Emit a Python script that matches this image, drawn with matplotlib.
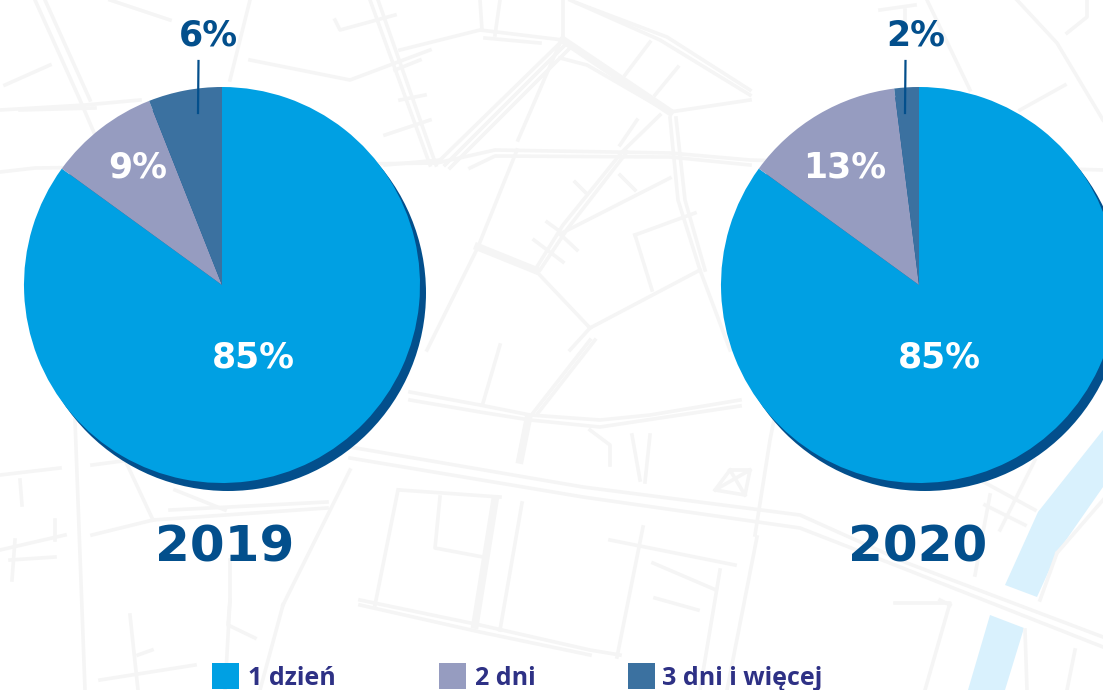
import matplotlib.pyplot as plt
from matplotlib.patches import Circle, Polygon, Rectangle

plt.rcParams['font.family'] = ['Open Sans', 'DejaVu Sans']

# data
years = ['2019', '2020']
categories = ['1 dzień', '2 dni', '3 dni i więcej']
values_2019 = [85, 9, 6]
values_2020 = [85, 13, 2]
colors = ['#00a0e3', '#969cc0', '#3b71a0']
dark = '#034f8c'
legend_color = '#2e3185'
road_color = '#f5f5f5'
river_color = '#d9f1fd'

# background map, in pixels of the picture
roads = [
    [(400, 50), (480, 30), (563, 40)], [(437, 163), (563, 40)], [(445, 165), (565, 45)], [(450, 168), (570, 48)],
    [(0, 172), (35, 168), (437, 163), (495, 150), (670, 153), (750, 160), (1103, 170)],
    [(470, 168), (495, 156), (670, 157), (750, 165)], [(518, 140), (560, 43)], [(517, 150), (478, 247), (427, 350)],
    [(535, 270), (563, 225), (622, 152), (660, 115)], [(540, 270), (568, 228), (627, 152)], [(560, 234), (670, 178)],
    [(670, 118), (678, 200), (700, 270), (730, 350)], [(676, 118), (685, 200), (705, 270)], [(670, 112), (750, 100)],
    [(577, 3), (667, 37), (750, 90)], [(570, 0), (660, 40), (750, 95)], [(563, 0), (563, 40)],
    [(535, 270), (590, 328), (700, 270)], [(590, 328), (570, 350)], [(635, 235), (652, 290)], [(635, 235), (695, 213)],
    [(480, 0), (482, 30)], [(500, 0), (495, 35)], [(485, 38), (540, 43)], [(560, 58), (587, 65), (670, 113)],
    [(625, 75), (650, 42)], [(655, 95), (678, 67)], [(620, 145), (637, 120)], [(575, 182), (585, 192)],
    [(547, 222), (558, 230)], [(534, 240), (563, 262)], [(620, 175), (635, 190)], [(560, 234), (577, 250)],
    [(35, 0), (80, 100), (110, 170)], [(45, 0), (90, 100)], [(5, 85), (50, 65)], [(20, 110), (95, 108)],
    [(0, 110), (85, 105), (140, 100)], [(110, 0), (170, 20)], [(250, 60), (350, 80), (430, 50)],
    [(370, 0), (430, 165)], [(378, 0), (436, 165)], [(250, 0), (230, 80)], [(335, 20), (340, 30), (395, 15)],
    [(385, 135), (430, 120)], [(385, 165), (440, 160)], [(395, 70), (420, 60)], [(400, 100), (425, 95)],
    [(410, 392), (480, 405), (530, 415), (600, 420), (650, 415), (740, 400)],
    [(410, 400), (480, 412), (530, 420), (600, 427), (740, 406)],
    [(350, 447), (583, 487), (800, 515), (907, 563), (1103, 637)],
    [(350, 458), (583, 497), (800, 528), (900, 567), (1103, 647)],
    [(360, 600), (480, 625), (590, 650), (620, 655)], [(360, 605), (480, 632), (590, 655)], [(398, 490), (375, 605)],
    [(500, 345), (483, 403)], [(533, 413), (590, 340)], [(538, 413), (595, 340)], [(522, 503), (500, 630)],
    [(440, 497), (435, 548), (483, 557)], [(400, 490), (500, 497)], [(643, 527), (617, 657)],
    [(610, 540), (735, 565)], [(720, 570), (700, 690)], [(755, 535), (770, 440), (790, 340)],
    [(757, 537), (727, 690)], [(653, 563), (716, 590)], [(655, 598), (698, 610)],
    [(632, 435), (640, 480)], [(650, 435), (645, 482)], [(590, 430), (610, 445), (610, 465)],
    [(715, 490), (730, 470), (750, 470), (745, 495), (715, 490), (750, 470)], [(730, 470), (745, 495)],
    [(75, 420), (85, 690)], [(92, 535), (153, 520), (327, 508)], [(170, 510), (327, 502)],
    [(153, 520), (125, 460)], [(92, 465), (130, 460)], [(175, 490), (225, 510)],
    [(230, 600), (228, 625), (255, 638)], [(230, 560), (230, 600), (225, 690)],
    [(283, 605), (350, 470)], [(283, 605), (260, 690)], [(130, 615), (138, 690)], [(138, 655), (152, 650)],
    [(100, 680), (195, 665)], [(0, 475), (60, 468)], [(20, 480), (22, 505)], [(0, 550), (65, 535)],
    [(55, 520), (55, 540)], [(15, 540), (12, 580)], [(10, 560), (55, 557)], [(1057, 553), (1040, 600)],
    [(1103, 500), (1057, 553)], [(1025, 630), (1027, 690)], [(1075, 650), (1067, 690)], [(940, 600), (950, 605)],
    [(895, 603), (950, 603), (925, 690)], [(1017, 0), (1057, 43), (1103, 120)],
    [(1087, 0), (1087, 17), (1067, 33)], [(927, 0), (970, 90)], [(880, 10), (915, 5)], [(905, 10), (905, 25)],
    [(1020, 110), (1065, 85)], [(980, 480), (1035, 510)], [(985, 505), (1025, 525)],
    [(990, 495), (975, 575)], [(1035, 460), (1000, 530)],
]
thick_roads = [[(478, 247), (535, 270)], [(495, 500), (475, 625)], [(520, 460), (528, 420)], [(563, 40), (670, 112)]]
river = [
    [(1005, 585), (1038, 512), (1103, 430), (1103, 487), (1057, 553), (1037, 597)],
    [(990, 615), (968, 690), (1005, 690), (1024, 628)],
]

fig = plt.figure(figsize=(11.03, 6.9), dpi=100)
ax = fig.add_axes([0, 0, 1, 1])

for r in river:
    ax.add_patch(Polygon(r, closed=True, color=river_color, lw=0, zorder=1))
for r in roads:
    ax.plot([p[0] for p in r], [p[1] for p in r], color=road_color, lw=2.6, zorder=2)
for r in thick_roads:
    ax.plot([p[0] for p in r], [p[1] for p in r], color=road_color, lw=5.5, zorder=2)

# the y axis runs downward, so startangle -90 is the top of the pie
for center_x, values, year, line_x, outer_x, lilac_x, big_x, year_x in [
    (222, values_2019, years[0], 198.5, 208, 138, 253.5, 225),
    (919, values_2020, years[1], 905.5, 916, 845, 939.5, 918),
]:
    ax.add_patch(Circle((center_x + 6, 293), 198, color=dark, lw=0, zorder=3))
    ax.pie(values, colors=colors, startangle=-90, counterclock=True, radius=198,
           center=(center_x, 285), wedgeprops={'linewidth': 0, 'zorder': 4})
    ax.text(big_x, 357, f'{values[0]}%', color='white', family='DejaVu Sans',
            fontsize=25, fontweight='bold', ha='center', va='center', zorder=6)
    ax.text(lilac_x, 168, f'{values[1]}%', color='white', family='DejaVu Sans',
            fontsize=25, fontweight='bold', ha='center', va='center', zorder=6)
    ax.text(outer_x, 36, f'{values[2]}%', color=dark, family='DejaVu Sans',
            fontsize=25, fontweight='bold', ha='center', va='center', zorder=6)
    ax.plot([line_x, line_x - 0.5], [61, 113], color=dark, lw=1.6, zorder=5)
    ax.text(year_x, 547, year, color=dark, family='DejaVu Sans',
            fontsize=36, fontweight='bold', ha='center', va='center', zorder=6)

# legend
for cat, col, sw_x, txt_x in zip(categories, colors, [212, 439, 628], [248, 475, 662]):
    ax.add_patch(Rectangle((sw_x, 663), 27, 26, color=col, lw=0, zorder=6))
    ax.text(txt_x, 685, cat, color=legend_color, fontsize=18, fontweight='bold',
            ha='left', va='baseline', zorder=6)

ax.set_xlim(0, 1103)
ax.set_ylim(690, 0)
ax.set_aspect('auto')
ax.axis('off')

plt.savefig('out.png', dpi=100)
